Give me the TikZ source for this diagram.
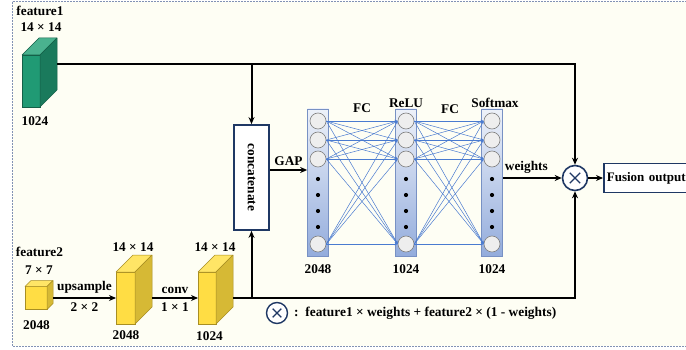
\documentclass[tikz,border=0pt]{standalone}
\usepackage{fontspec}
\setmainfont{Liberation Serif}
\usetikzlibrary{positioning, arrows.meta, calc}

\definecolor{bgcream}{RGB}{254,254,244}
\definecolor{frameline}{RGB}{130,146,180}
\definecolor{navy}{RGB}{31,56,100}
\definecolor{grn-front}{RGB}{32,154,116}
\definecolor{grn-side}{RGB}{26,122,92}
\definecolor{grn-top}{RGB}{74,178,143}
\definecolor{grn-edge}{RGB}{20,96,72}
\definecolor{ylw-front}{RGB}{255,221,68}
\definecolor{ylw-side}{RGB}{214,185,53}
\definecolor{ylw-top}{RGB}{255,229,102}
\definecolor{ylw-edge}{RGB}{168,142,34}
\definecolor{layertop}{RGB}{237,241,249}
\definecolor{layerbot}{RGB}{147,172,220}
\definecolor{layerline}{RGB}{120,145,196}
\definecolor{unitfill}{RGB}{238,238,238}
\definecolor{connblue}{RGB}{74,123,208}

\begin{document}
\begin{tikzpicture}[x=1pt, y=-1pt,
    every node/.style={font=\fontsize{13.3}{15}\selectfont\bfseries},
    cubefront/.style={rectangle, inner sep=0pt, outer sep=0pt, line width=0.5pt},
    cubeface/.style={line width=0.5pt, line join=round},
    box/.style={rectangle, draw=navy, line width=1.8pt, fill=white, inner sep=0pt},
    layer/.style={rectangle, draw=layerline, line width=0.7pt, top color=layertop,
                  bottom color=layerbot, minimum width=21pt, minimum height=147pt, inner sep=0pt},
    unit/.style={circle, draw=black!50, fill=unitfill, line width=0.6pt,
                 minimum size=16pt, inner sep=0pt},
    dot/.style={circle, fill=black, minimum size=4.2pt, inner sep=0pt},
    mulnode/.style={circle, draw=navy, line width=1.6pt, fill=white, minimum size=25pt, inner sep=0pt},
    arrow/.style={-{Stealth[length=7pt, width=6pt]}, line width=2pt},
    conn/.style={-{Stealth[length=3pt, width=2.5pt]}, line width=0.5pt, connblue}
]

    % Canvas
    \clip (0,0) rectangle (686,350);
    \fill[white] (0,0) rectangle (686,350);
    \filldraw[fill=bgcream, draw=frameline, line width=1pt, dash pattern=on 2pt off 1pt]
        (12,2) rectangle (700,346);

    % Feature maps
    \foreach \n/\x/\y/\w/\h/\d/\c in {f1/31/81/18/52/17/grn, f2s/36/298/22/23/6/ylw,
                                      f2/125.5/298/19/52/17/ylw, f3/207/298/18/52/17/ylw} {
        \node[cubefront, draw=\c-edge, fill=\c-front, minimum width=\w, minimum height=\h] (\n) at (\x,\y) {};
        \filldraw[cubeface, draw=\c-edge, fill=\c-top]
            (\n.north west) -- ++(\d,-\d) -- ++(\w,0) -- (\n.north east) -- cycle;
        \filldraw[cubeface, draw=\c-edge, fill=\c-side]
            (\n.north east) -- ++(\d,-\d) -- ++(0,\h) -- (\n.south east) -- cycle;
    }

    % Feature 1
    \node (f1name) at (40,11) {feature1};
    \node (f1size) at (41,27) {14 × 14};
    \node (f1ch) at (35,121) {1024};

    % Feature 2
    \node (f2name) at (39.5,252) {feature2};
    \node (f2ssize) at (39,270) {7 × 7};
    \node (f2sch) at (36.5,325) {2048};
    \node (f2size) at (133,247) {14 × 14};
    \node (f2ch) at (126,335) {2048};
    \node (f3size) at (215,247) {14 × 14};
    \node (f3ch) at (209.5,336) {1024};

    % Concatenate
    \node[box, minimum width=35pt, minimum height=105pt] (concat) at (251.5,177.5)
        {\rotatebox{-90}{concatenate}};

    % Layers
    \foreach \n/\x/\s in {l1/318/2048, l2/406/1024, l3/492/1024} {
        \node[layer] (\n) at (\x,182.5) {};
        \foreach \i/\y in {1/121, 2/140, 3/159, 4/244}
            \node[unit] (\n-\i) at (\x,\y) {};
        \foreach \y in {179, 195, 211, 227}
            \node[dot] (\n-d\y) at (\x,\y) {};
        \node (\n-size) at (\x,269) {\s};
    }
    \node (fc1) at (362,108) {FC};
    \node (relu) at (406,103) {ReLU};
    \node (fc2) at (450,109) {FC};
    \node (softmax) at (495,103) {Softmax};

    % Fully connected links
    \foreach \s/\t in {l1/l2, l2/l3}
        \foreach \i in {1,...,4}
            \foreach \j in {1,...,4}
                \draw[conn] (\s-\i.east) -- (\t-\j.west);

    % Fusion
    \node[mulnode] (mul) at (575,178) {};
    \node[box, anchor=west, minimum height=29pt, text width=96pt, align=left, inner xsep=3pt,
          font=\fontsize{13}{15}\selectfont\bfseries]
        (fuse) at (603,178) {Fusion output};

    % Legend
    \node[mulnode, minimum size=21pt, line width=1.4pt] (legmul) at (277,313) {};
    \node[anchor=west, inner sep=0pt, font=\fontsize{13.4}{15}\selectfont\bfseries] (legtext) at (294,313)
        {:\ \ feature1 × weights + feature2 × (1 - weights)};

    \foreach \m in {mul, legmul} {
        \draw[navy, line width=1.4pt] ($(\m.center)!0.55!(\m.north west)$) -- ($(\m.center)!0.55!(\m.south east)$);
        \draw[navy, line width=1.4pt] ($(\m.center)!0.55!(\m.north east)$) -- ($(\m.center)!0.55!(\m.south west)$);
    }

    % Arrows
    \coordinate (topline) at ($(f1.north east)+(17,9)$);
    \coordinate (botline) at ($(f3.east)+(17,0)$);
    \draw[arrow] ($(f2s.east)+(6,0)$) -- (f2.west)
        node[midway, above] (upname) {upsample} node[midway, below] (upsize) {2 × 2};
    \draw[arrow] ($(f2.east)+(17,0)$) -- (f3.west)
        node[midway, above] (convname) {conv} node[midway, below] (convsize) {1 × 1};
    \draw[arrow] (topline) -| (mul);
    \draw[arrow] (concat.north |- topline) -- (concat.north);
    \draw[arrow] (botline) -| (mul);
    \draw[arrow] (concat.south |- botline) -- (concat.south);
    \draw[arrow] ($(concat.east)+(0,-7.5)$) -- ($(l1.west |- concat.east)+(0,-7.5)$)
        node[midway, above] (gap) {GAP};
    \draw[arrow] (l3.east |- mul) -- (mul) node[pos=0.4, above] (wname) {weights};
    \draw[arrow] (mul) -- (fuse);

\end{tikzpicture}
\end{document}
